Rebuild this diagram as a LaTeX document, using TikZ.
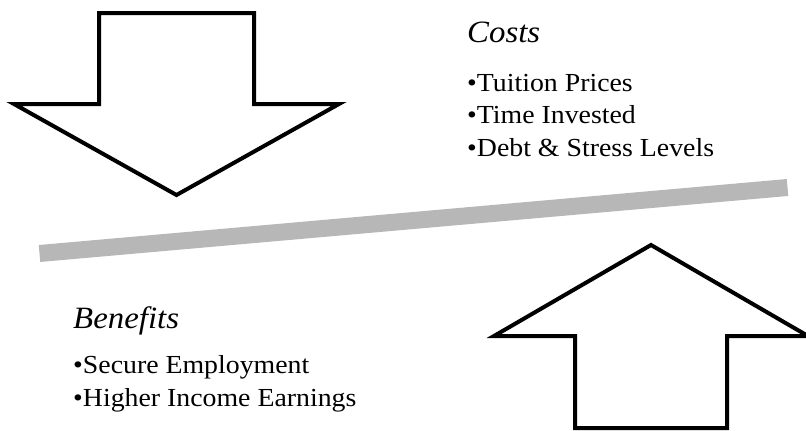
\documentclass[tikz,border=0pt]{standalone}
\usepackage{fontspec}
\setmainfont{Liberation Serif}
\newfontfamily\headfont{Liberation Serif}[FakeStretch=1.06]
\newfontfamily\pointfont{Liberation Serif}[FakeStretch=1.07]
\usetikzlibrary{positioning}
\definecolor{beam}{HTML}{B7B7B7}

\tikzset{
  bigarrow/.style={draw=black,fill=white,line width=4pt,miter limit=10},
  heading/.style={font=\headfont\itshape\fontsize{31}{36}\selectfont,inner sep=0pt,text height=22pt,text depth=8pt},
  point/.style={font=\pointfont\fontsize{26}{33}\selectfont,inner sep=0pt,text height=19pt,text depth=6pt},
}

\begin{document}
\begin{tikzpicture}[x=1pt,y=-1pt]
  \useasboundingbox (0,0) rectangle (806,431);
  % balance beam
  \coordinate (beamL) at (39.5,253.5);
  \coordinate (beamR) at (787.5,187.5);
  \draw[beam,line width=17pt] (beamL) -- (beamR);
  % costs arrow, pointing down
  \draw[bigarrow] (99,13) -- (254,13) -- (254,104) -- (339,104) -- (176.5,195)
    -- (14,104) -- (99,104) -- cycle;
  % benefits arrow, pointing up
  \draw[bigarrow] (575,428) -- (727,428) -- (727,336) -- (808,336) -- (651,245)
    -- (494,336) -- (575,336) -- cycle;
  % costs
  \node[heading,anchor=base west](costs) at (467,42) {Costs};
  \node[point,below right=22pt and 0pt of costs.south west](tuition) {•Tuition Prices};
  \node[point,below right=7pt and 0pt of tuition.south west](time) {•Time Invested};
  \node[point,below right=7pt and 0pt of time.south west](debt) {•Debt \& Stress Levels};
  % benefits
  \node[heading,anchor=base west](benefits) at (73,328) {Benefits};
  \node[point,below right=18pt and 0pt of benefits.south west](secure) {•Secure Employment};
  \node[point,below right=8pt and 0pt of secure.south west](higher) {•Higher Income Earnings};
\end{tikzpicture}
\end{document}
